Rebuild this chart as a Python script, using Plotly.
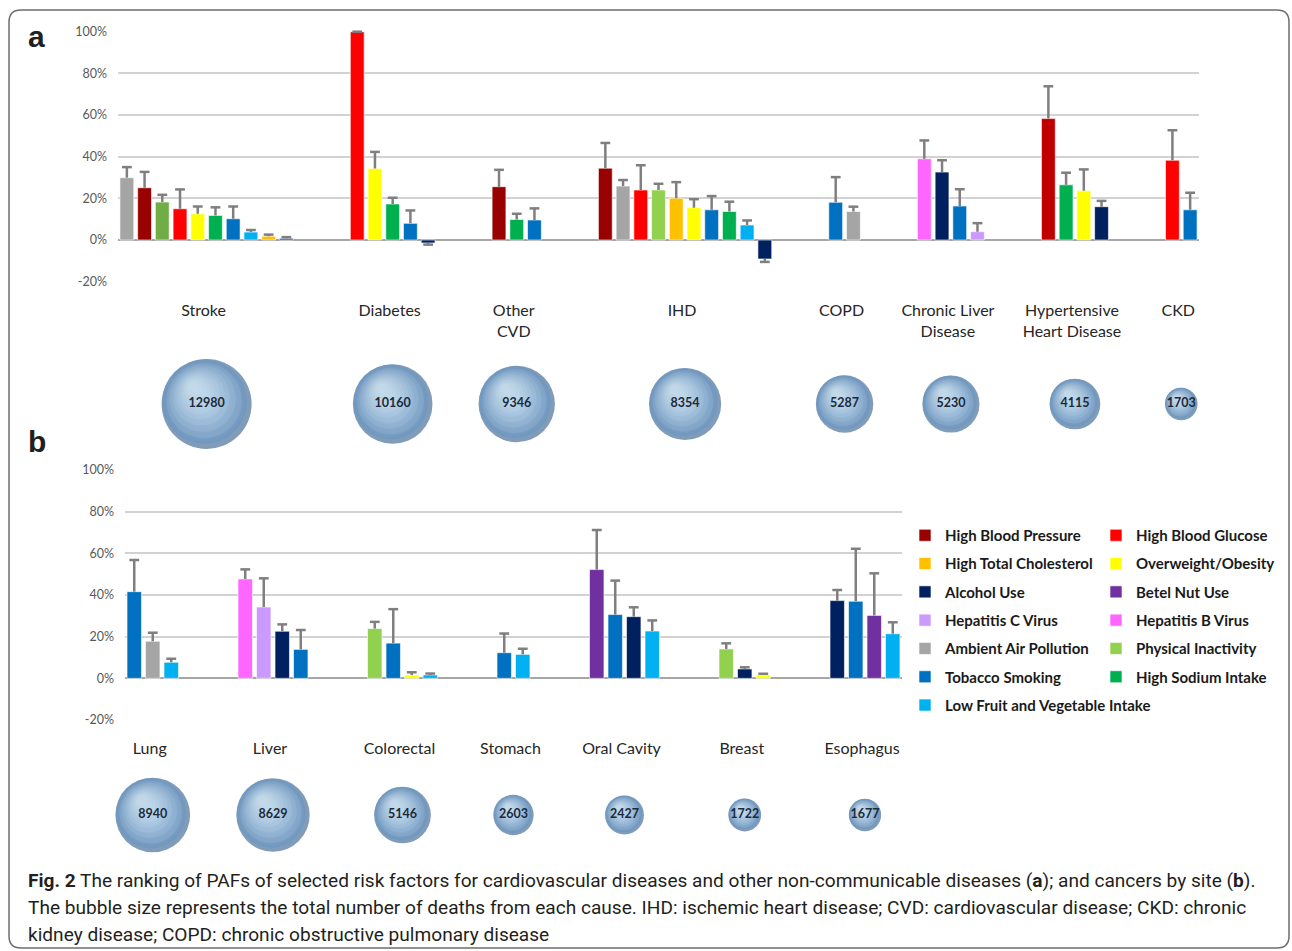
import plotly.graph_objects as go

W, H = 1292, 951
FONT = "Lato"

# ---------------- Panel a: cardiovascular and other NCDs ----------------
causes_a = ["Stroke", "Diabetes", "Other<br>CVD", "IHD", "COPD",
            "Chronic Liver<br>Disease", "Hypertensive<br>Heart Disease", "CKD"]
deaths_a = [12980, 10160, 9346, 8354, 5287, 5230, 4115, 1703]
factors_a = [
    ["Ambient Air Pollution", "High Blood Pressure", "Physical Inactivity", "High Blood Glucose",
     "Overweight/Obesity", "High Sodium Intake", "Tobacco Smoking",
     "Low Fruit and Vegetable Intake", "High Total Cholesterol", "Alcohol Use"],
    ["High Blood Glucose", "Overweight/Obesity", "High Sodium Intake", "Tobacco Smoking", "Alcohol Use"],
    ["High Blood Pressure", "High Sodium Intake", "Tobacco Smoking"],
    ["High Blood Pressure", "Ambient Air Pollution", "High Blood Glucose", "Physical Inactivity",
     "High Total Cholesterol", "Overweight/Obesity", "Tobacco Smoking", "High Sodium Intake",
     "Low Fruit and Vegetable Intake", "Alcohol Use"],
    ["Tobacco Smoking", "Ambient Air Pollution"],
    ["Hepatitis B Virus", "Alcohol Use", "Tobacco Smoking", "Hepatitis C Virus"],
    ["High Blood Pressure", "High Sodium Intake", "Overweight/Obesity", "Alcohol Use"],
    ["High Blood Glucose", "Tobacco Smoking"],
]
paf_a = [
    [29.9, 25.1, 18.2, 15.0, 12.6, 11.8, 10.2, 3.8, 1.8, 0.8],
    [100.0, 34.3, 17.3, 8.0, -1.4],
    [25.6, 9.9, 9.6],
    [34.5, 25.9, 24.0, 24.0, 20.1, 15.5, 14.5, 13.7, 7.2, -9.1],
    [18.1, 13.7],
    [39.0, 32.6, 16.3, 4.0],
    [58.3, 26.5, 23.6, 16.0],
    [38.3, 14.5],
]
# far end of each uncertainty whisker
bound_a = [
    [35.0, 32.7, 21.7, 24.3, 16.1, 15.7, 16.1, 4.8, 2.6, 1.4],
    [100.0, 42.3, 20.3, 14.2, -2.2],
    [33.7, 12.6, 15.2],
    [46.6, 28.8, 35.9, 27.0, 27.8, 19.6, 21.1, 18.4, 9.4, -10.5],
    [30.2, 16.0],
    [47.8, 38.3, 24.4, 8.1],
    [73.8, 32.3, 33.9, 18.8],
    [52.7, 22.7],
]

# ---------------- Panel b: cancers by site ----------------
causes_b = ["Lung", "Liver", "Colorectal", "Stomach", "Oral Cavity", "Breast", "Esophagus"]
deaths_b = [8940, 8629, 5146, 2603, 2427, 1722, 1677]
factors_b = [
    ["Tobacco Smoking", "Ambient Air Pollution", "Low Fruit and Vegetable Intake"],
    ["Hepatitis B Virus", "Hepatitis C Virus", "Alcohol Use", "Tobacco Smoking"],
    ["Physical Inactivity", "Tobacco Smoking", "Overweight/Obesity", "Low Fruit and Vegetable Intake"],
    ["Tobacco Smoking", "Low Fruit and Vegetable Intake"],
    ["Betel Nut Use", "Tobacco Smoking", "Alcohol Use", "Low Fruit and Vegetable Intake"],
    ["Physical Inactivity", "Alcohol Use", "Overweight/Obesity"],
    ["Alcohol Use", "Tobacco Smoking", "Betel Nut Use", "Low Fruit and Vegetable Intake"],
]
paf_b = [
    [41.6, 17.8, 7.7],
    [47.7, 34.2, 22.6, 13.9],
    [23.9, 16.9, 1.6, 1.6],
    [12.3, 11.5],
    [52.2, 30.6, 29.6, 22.7],
    [14.1, 4.5, 1.6],
    [37.3, 37.0, 30.2, 21.4],
]
bound_b = [
    [56.8, 21.9, 9.4],
    [52.3, 48.0, 25.9, 23.2],
    [27.1, 33.2, 2.9, 2.3],
    [21.5, 14.2],
    [71.2, 46.9, 34.1, 27.8],
    [16.8, 5.3, 2.2],
    [42.4, 62.2, 50.4, 26.9],
]

pct_ticks = [-20, 0, 20, 40, 60, 80, 100]

# ---------------- Legend layout (two columns) ----------------
legend_left = ["High Blood Pressure", "High Total Cholesterol", "Alcohol Use", "Hepatitis C Virus",
               "Ambient Air Pollution", "Tobacco Smoking", "Low Fruit and Vegetable Intake"]
legend_right = ["High Blood Glucose", "Overweight/Obesity", "Betel Nut Use", "Hepatitis B Virus",
                "Physical Inactivity", "High Sodium Intake"]

colors = {
    "High Blood Pressure": "#990000",
    "High Blood Glucose": "#ff0000",
    "High Total Cholesterol": "#ffc000",
    "Overweight/Obesity": "#ffff00",
    "Alcohol Use": "#002060",
    "Betel Nut Use": "#7030a0",
    "Hepatitis C Virus": "#cc99ff",
    "Hepatitis B Virus": "#ff66ff",
    "Ambient Air Pollution": "#a5a5a5",
    "Physical Inactivity": "#92d050",
    "Tobacco Smoking": "#0070c0",
    "High Sodium Intake": "#00b050",
    "Low Fruit and Vegetable Intake": "#00b0f0",
}
color_override = {
    ("Stroke", "Physical Inactivity"): "#70ad47",
    ("Stroke", "Alcohol Use"): "#2f4f8f",
    ("Hypertensive<br>Heart Disease", "High Blood Pressure"): "#c00000",
}

# pixel frames of the two panels
A_X, A_Y, A_BUB = (118, 1199), (31.7, 281.7), 404
B_X, B_Y, B_BUB = (125, 902), (470, 720), 815
BUB_HALF = 55
MAX_D = 90.0  # diameter in px of the largest bubble
MAX_DEATHS = max(deaths_a + deaths_b)
SIZEREF = 2.0 * MAX_DEATHS / MAX_D ** 2
LABEL_SHIFT_PX = -3
# sphere shading: dark rim, lit body nudged up-left, then a soft glow spot
BODY_SCALE, BODY_SHIFT = 0.94, (-0.045, 0.05)
GLOW_SCALES = [0.84, 0.74, 0.64, 0.55, 0.47, 0.39, 0.32, 0.25, 0.19, 0.13]
GLOW_SPOT = (-0.30, 0.40)  # highlight point, in bubble radii (x right, y up)


def xdom(p):
    return [p[0] / W, p[1] / W]


def ydom(top, bottom):
    return [1 - bottom / H, 1 - top / H]


def slots(factors, gap=3):
    xs, centers, pos = [], [], 0
    for grp in factors:
        idx = list(range(pos, pos + len(grp)))
        xs.append(idx)
        centers.append((idx[0] + idx[-1]) / 2)
        pos += len(grp) + gap
    return xs, centers, pos - gap


fig = go.Figure()
legend_owner = {f: ("b" if any(f in g for g in factors_b) else "a") for f in colors}


def add_panel(tag, causes, deaths, factors, paf, bound, xa, ya, xb, yb, xpix, ypix, bub_ypix):
    xs, centers, n = slots(factors)
    px_per_slot = (xpix[1] - xpix[0]) / n
    # bars, one trace per risk factor
    for f in legend_left + legend_right:
        x, y, c = [], [], []
        for gi, grp in enumerate(factors):
            for bi, name in enumerate(grp):
                if name == f:
                    x.append(xs[gi][bi])
                    y.append(paf[gi][bi])
                    c.append(color_override.get((causes[gi], f), colors[f]))
        if not x:
            continue
        in_left = f in legend_left
        rank = (legend_left.index(f) if in_left else legend_right.index(f)) + 1
        fig.add_trace(go.Bar(
            x=x, y=y, width=0.78, name=f, legendgroup=f,
            marker=dict(color=c, line=dict(width=0.8, color="rgba(255,255,255,0.75)")),
            showlegend=(legend_owner[f] == tag),
            legend="legend" if in_left else "legend2", legendrank=rank,
            xaxis=xa, yaxis=ya, hovertemplate=f + ": %{y:.1f}%<extra></extra>"))
    # uncertainty whiskers
    wx, wy, cx, cy = [], [], [], []
    for gi, grp in enumerate(factors):
        for bi in range(len(grp)):
            wx += [xs[gi][bi], xs[gi][bi], None]
            wy += [paf[gi][bi], bound[gi][bi], None]
            cx.append(xs[gi][bi])
            cy.append(bound[gi][bi])
    fig.add_trace(go.Scatter(x=wx, y=wy, mode="lines", line=dict(color="#7f7f7f", width=2.5),
                             showlegend=False, hoverinfo="skip", cliponaxis=False,
                             xaxis=xa, yaxis=ya))
    fig.add_trace(go.Scatter(x=cx, y=cy, mode="markers", showlegend=False, hoverinfo="skip",
                             cliponaxis=False, xaxis=xa, yaxis=ya,
                             marker=dict(symbol="line-ew", size=7,
                                         line=dict(width=2.5, color="#7f7f7f"))))

    # bubbles: total deaths per cause, drawn as shaded spheres
    radii = [MAX_D * (d / MAX_DEATHS) ** 0.5 / 2 for d in deaths]

    def shifted(fx, fy):
        return ([c + fx * r / px_per_slot for c, r in zip(centers, radii)],
                [fy * r / BUB_HALF for r in radii])

    def disc(x, y, scale, **marker):
        fig.add_trace(go.Scatter(
            x=x, y=y, mode="markers", showlegend=False, cliponaxis=False,
            xaxis=xb, yaxis=yb, hoverinfo="skip",
            marker=dict(size=deaths, sizemode="area", sizeref=SIZEREF / scale ** 2,
                        line=dict(width=0), **marker)))

    zeros = [0] * len(deaths)
    disc(centers, zeros, 1.0, color="#4a729b")
    bx, by = shifted(*BODY_SHIFT)
    disc(bx, by, BODY_SCALE, color="#6b95c0", gradient=dict(type="radial", color="#a2caf0"))
    smin = GLOW_SCALES[-1]
    for s in GLOW_SCALES:
        k = (1 - s) / (1 - smin)
        gx, gy = shifted(k * GLOW_SPOT[0], k * GLOW_SPOT[1])
        disc(gx, gy, s, color="rgba(240,250,255,0.12)")
    fig.add_trace(go.Scatter(
        x=centers, y=zeros, mode="text", text=[str(d) for d in deaths],
        textfont=dict(family=FONT, size=12.5, color="#1c2a3a", weight="bold"),
        showlegend=False, cliponaxis=False, xaxis=xb, yaxis=yb,
        hovertemplate="%{text} deaths<extra></extra>"))

    axis_x = dict(domain=xdom(xpix), range=[-0.5, n - 0.5], showgrid=False, zeroline=False,
                  showline=False, fixedrange=True)
    shift = LABEL_SHIFT_PX / px_per_slot
    fig.layout[xa.replace("x", "xaxis")] = dict(
        axis_x, anchor=ya, tickvals=[c + shift for c in centers], ticktext=causes, ticks="",
        ticklabelstandoff=17, tickfont=dict(family=FONT, size=16, color="#262626"))
    fig.layout[ya.replace("y", "yaxis")] = dict(
        domain=ydom(*ypix), anchor=xa, range=[-20, 100], tickmode="array",
        tickvals=pct_ticks, ticktext=[f"{v}%" for v in pct_ticks],
        showgrid=True, gridcolor="#d2d2d2", gridwidth=1.5,
        zeroline=True, zerolinecolor="#a6a6a6", zerolinewidth=1.5, showline=False,
        ticks="", ticklabelstandoff=10, tickfont=dict(family=FONT, size=12.5, color="#595959"),
        fixedrange=True)
    fig.layout[xb.replace("x", "xaxis")] = dict(axis_x, anchor=yb, visible=False)
    fig.layout[yb.replace("y", "yaxis")] = dict(
        domain=ydom(bub_ypix - BUB_HALF, bub_ypix + BUB_HALF), anchor=xb, range=[-1, 1],
        visible=False, fixedrange=True)


add_panel("a", causes_a, deaths_a, factors_a, paf_a, bound_a, "x", "y", "x2", "y2", A_X, A_Y, A_BUB)
add_panel("b", causes_b, deaths_b, factors_b, paf_b, bound_b, "x3", "y3", "x4", "y4", B_X, B_Y, B_BUB)

legend_style = dict(xanchor="left", yanchor="top", bgcolor="rgba(0,0,0,0)",
                    font=dict(family=FONT, size=15, color="#1a1a1a", weight="bold"),
                    tracegroupgap=5.8, itemwidth=30, traceorder="grouped")

# rounded outer frame
fx0, fy0, fx1, fy1, rr = 9, 10, 1289, 948, 12


def P(x, y):
    return f"{x / W:.5f},{1 - y / H:.5f}"


frame = (f"M {P(fx0 + rr, fy0)} L {P(fx1 - rr, fy0)} Q {P(fx1, fy0)} {P(fx1, fy0 + rr)} "
         f"L {P(fx1, fy1 - rr)} Q {P(fx1, fy1)} {P(fx1 - rr, fy1)} "
         f"L {P(fx0 + rr, fy1)} Q {P(fx0, fy1)} {P(fx0, fy1 - rr)} "
         f"L {P(fx0, fy0 + rr)} Q {P(fx0, fy0)} {P(fx0 + rr, fy0)} Z")

caption = [
    "<b>Fig. 2</b> The ranking of PAFs of selected risk factors for cardiovascular diseases and other "
    "non-communicable diseases (<b>a</b>); and cancers by site (<b>b</b>).",
    "The bubble size represents the total number of deaths from each cause. IHD: ischemic heart disease; "
    "CVD: cardiovascular disease; CKD: chronic",
    "kidney disease; COPD: chronic obstructive pulmonary disease",
]
cap_font = dict(family="Roboto, sans-serif", size=19.1, color="#231f20")
annotations = [
    dict(text=line, x=26 / W, y=1 - yy / H, xref="paper", yref="paper", xanchor="left",
         yanchor="middle", showarrow=False, font=cap_font)
    for line, yy in zip(caption, [880, 907, 934])
]
annotations += [
    dict(text="<b>a</b>", x=36 / W, y=1 - 37 / H, xref="paper", yref="paper", showarrow=False,
         xanchor="center", yanchor="middle",
         font=dict(family="Liberation Sans", size=30, color="#231f20")),
    dict(text="<b>b</b>", x=37 / W, y=1 - 441 / H, xref="paper", yref="paper", showarrow=False,
         xanchor="center", yanchor="middle",
         font=dict(family="Liberation Sans", size=30, color="#231f20")),
]

fig.update_layout(
    width=W, height=H, autosize=False,
    margin=dict(l=0, r=0, t=0, b=0, pad=0, autoexpand=False),
    paper_bgcolor="white", plot_bgcolor="white", barmode="overlay",
    legend=dict(legend_style, x=905 / W, y=1 - 519 / H),
    legend2=dict(legend_style, x=1096 / W, y=1 - 519 / H),
    shapes=[dict(type="path", path=frame, xref="paper", yref="paper",
                 line=dict(color="#6e6e6e", width=1.5))],
    annotations=annotations,
)

fig.write_html("out.html")
